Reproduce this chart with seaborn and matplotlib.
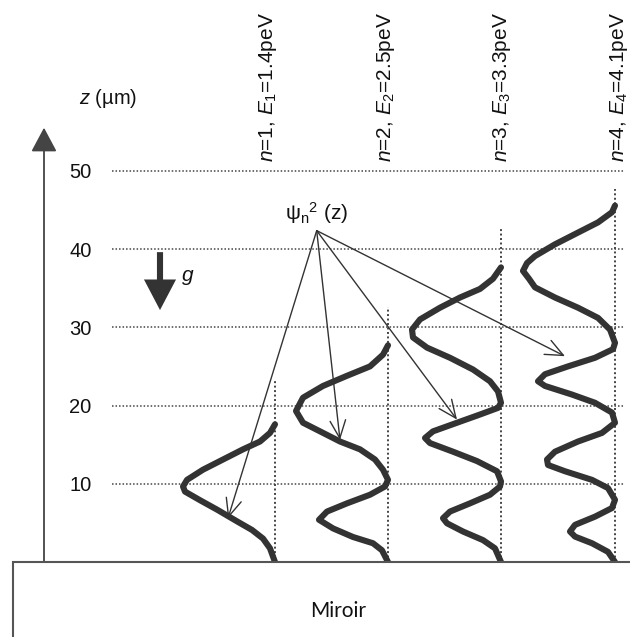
import numpy as np
import pandas as pd
import matplotlib
matplotlib.use("Agg")
import matplotlib.pyplot as plt
from matplotlib.patches import Rectangle
import seaborn as sns

# psi_n^2(z): z in um, amplitude = leftward deflection (a.u.)
z1 = [0, 1.75, 3.0, 4.1, 5.2, 6.7, 7.9, 9.0, 9.65, 10.5, 11.8, 13.1, 14.4, 15.4, 16.5, 17.6]
a1 = [0, 5, 12, 23, 38, 58, 75, 90, 92, 88, 72, 52, 32, 15, 5, 0]

z2 = [0, 1.5, 2.4, 3.2, 4.3, 5.4, 6.45, 7.5, 8.6, 9.65, 10.5, 11.8, 13.1, 14.4, 15.4, 16.7,
      17.8, 19.3, 21.0, 22.5, 23.8, 25.0, 26.5, 27.7]
a2 = [0, 6, 15, 35, 55, 69, 61, 41, 18, 3, 0, 5, 13, 28, 48, 68,
      85, 92, 85, 65, 41, 18, 5, 0]

z3 = [0, 1.75, 2.8, 3.9, 4.95, 5.6, 6.45, 7.5, 8.6, 9.65, 10.3, 11.6, 12.9, 14.1, 15.2, 15.85,
      16.7, 17.8, 18.85, 19.7, 20.35, 21.8, 23.1, 24.6, 26.1, 27.4, 28.7, 29.7, 31.0, 32.5,
      33.8, 34.9, 36.2, 37.65]
a3 = [0, 6, 18, 38, 54, 58, 51, 31, 11, 1, 0, 4, 24, 48, 71, 76,
      68, 44, 21, 3, 0, 3, 11, 28, 51, 74, 88, 89, 81, 61,
      41, 21, 8, 0]

z4 = [0, 1.3, 2.4, 3.25, 3.9, 4.75, 5.8, 6.9, 7.95, 9.45, 10.5, 11.6, 12.4, 13.1, 14.1, 15.4,
      16.5, 17.8, 19.1, 20.35, 21.4, 22.5, 23.1, 24.0, 25.0, 26.1, 27.2, 28.0, 29.7, 31.2,
      32.5, 33.8, 35.1, 36.2, 37.2, 38.2, 39.1, 40.6, 42.1, 43.4, 44.7, 45.55]
a4 = [0, 7, 23, 40, 45, 40, 20, 3, 0, 7, 23, 50, 67, 68, 60, 37,
      13, 0, 3, 20, 43, 70, 77, 70, 47, 20, 2, 0, 5, 17,
      37, 60, 80, 86, 92, 88, 80, 60, 37, 17, 3, 0]

baselines = [275, 388, 501, 615]
line_tops = [23.2, 32.6, 42.8, 47.7]
labels = [r"$n$=1, $E_1$=1.4peV", r"$n$=2, $E_2$=2.5peV",
          r"$n$=3, $E_3$=3.3peV", r"$n$=4, $E_4$=4.1peV"]
label_x = [268, 386, 502, 619]
z_ticks = [10, 20, 30, 40, 50]

# where the psi^2 arrows land on each curve
arrow_x = [228, 340, 457, 565]
arrow_z = [5.6, 15.6, 18.2, 26.3]
psi_pos = (316.7, 42.35)

frames = []
for n, (zz, aa, b) in enumerate(zip([z1, z2, z3, z4], [a1, a2, a3, a4], baselines), start=1):
    frames.append(pd.DataFrame({"z": zz, "x": b - np.array(aa), "state": n}))
df = pd.concat(frames, ignore_index=True)

sns.set_theme(style="white")
plt.rcParams["font.family"] = ["Liberation Sans", "DejaVu Sans"]
plt.rcParams["mathtext.fontset"] = "custom"
plt.rcParams["mathtext.rm"] = "Liberation Sans"
plt.rcParams["mathtext.it"] = "Liberation Sans:italic"

fig = plt.figure(figsize=(6.3, 6.37), dpi=100)
ax = fig.add_axes([0, 0, 1, 1])
ax.set_xlim(0, 630)
ax.set_ylim(-9.58, 71.82)
for s in ax.spines.values():
    s.set_visible(False)
ax.set_xticks([])

# tick labels sit to the right of the z arrow
ax.set_yticks(z_ticks)
ax.set_yticklabels([str(t) for t in z_ticks])
ax.tick_params(axis="y", length=0, pad=-66, labelsize=14.5, labelcolor="#111")
for t in ax.get_yticklabels():
    t.set_horizontalalignment("right")

dot = (0, (1, 1.3))
ax.hlines(z_ticks, 112, 625, colors="#444", lw=1.1, linestyles=[dot])
ax.vlines(baselines, 0, line_tops, colors="#444", lw=1.4, linestyles=[dot])

sns.lineplot(data=df, x="x", y="z", units="state", estimator=None, sort=False,
             color="#333333", lw=4.4, ax=ax, legend=False)
for l in ax.lines:
    l.set_solid_capstyle("round")
    l.set_solid_joinstyle("round")
ax.set_xlabel("")
ax.set_ylabel("")

for x, lab in zip(label_x, labels):
    ax.text(x, 51.1, lab, rotation=90, ha="center", va="bottom", fontsize=15, color="#111")

# z axis arrow
ax.annotate("", xy=(44, 55.5), xytext=(44, 0),
            arrowprops=dict(arrowstyle="-|>,head_length=0.75,head_width=0.4", lw=1.3,
                            color="#444", mutation_scale=20, shrinkA=0, shrinkB=0))
ax.text(108, 59.2, r"$z$ (µm)", ha="center", va="center", fontsize=14.5, color="#111")

# gravity arrow
ax.annotate("", xy=(160, 32.2), xytext=(160, 39.6),
            arrowprops=dict(arrowstyle="simple,head_length=1.0,head_width=1.05,tail_width=0.2",
                            lw=0, color="#333", mutation_scale=22, shrinkA=0, shrinkB=0))
ax.text(188, 36.3, r"$g$", ha="center", va="center", fontsize=15, color="#111")

# psi^2 label with arrows
ax.text(psi_pos[0], 44.6, r"ψ$_\mathregular{n}$$^\mathregular{2}$ (z)", ha="center",
        va="center", fontsize=15, color="#111")
for x, z in zip(arrow_x, arrow_z):
    ax.annotate("", xy=(x, z), xytext=psi_pos,
                arrowprops=dict(arrowstyle="->,head_length=0.8,head_width=0.35", lw=1.0,
                                color="#333", mutation_scale=16, shrinkA=0, shrinkB=0))

# mirror
ax.add_patch(Rectangle((13, -20), 700, 20, facecolor="white", edgecolor="#555",
                       lw=1.5, zorder=5))
ax.text(338, -6.26, "Miroir", ha="center", va="center", fontsize=15,
        family=["Lato", "DejaVu Sans"], color="#111", zorder=6)

fig.savefig("out.png", dpi=100)
